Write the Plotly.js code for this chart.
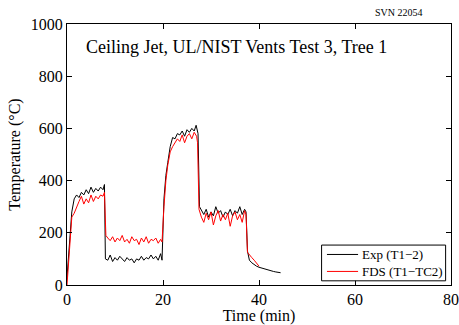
<!DOCTYPE html>
<html><head><meta charset="utf-8">
<script src="https://cdn.plot.ly/plotly-3.0.1.min.js"></script>
<style>html,body{margin:0;padding:0;background:#fff}#c{width:459px;height:325px}</style>
</head><body><div id="c"></div>
<script>
var expTime = [0,0.5,1,1.5,2,2.5,3,3.5,4,4.5,5,5.5,6,6.5,7,7.5,7.8,8.0,8.5,9,9.5,10,10.5,11,11.5,12,12.5,13,13.5,14,14.5,15,15.5,16,16.5,17,17.5,18,18.5,19,19.5,19.8,20.2,20.6,21,21.5,22,22.5,23,23.5,24,24.5,25,25.5,26,26.5,26.9,27.3,27.6,28,28.5,29,29.5,30,30.5,31,31.5,32,32.5,33,33.5,34,34.5,35,35.5,36,36.5,37,37.3,37.6,38,38.5,39,39.5,40,40.5,41,41.5,42,42.5,43,43.5,44,44.5];
var expTemp = [30,170,280,330,345,335,355,345,365,350,375,355,370,360,375,365,385,100,95,115,90,105,95,110,100,90,105,95,100,85,100,95,110,95,105,100,115,100,110,95,120,95,330,420,470,530,565,560,580,575,590,570,595,585,600,590,612,580,300,285,270,290,260,280,265,300,275,285,260,280,270,290,265,285,275,300,270,290,280,130,95,85,78,72,68,65,62,60,57,55,52,50,48,47];
var fdsTime = [0,0.5,1,1.5,2,2.5,3,3.5,4,4.5,5,5.5,6,6.5,7,7.5,7.8,8.1,8.5,9,9.5,10,10.5,11,11.5,12,12.5,13,13.5,14,14.5,15,15.5,16,16.5,17,17.5,18,18.5,19,19.5,19.8,20.2,20.6,21,21.5,22,22.5,23,23.5,24,24.5,25,25.5,26,26.5,27,27.2,27.5,28,28.5,29,29.5,30,30.5,31,31.5,32,32.5,33,33.5,34,34.5,35,35.5,36,36.5,37,37.3,37.6,38,38.5,39,39.5,40];
var fdsTemp = [0,120,260,275,300,320,340,310,330,315,345,320,340,330,345,340,355,190,180,170,185,165,180,170,190,165,175,160,185,170,175,155,180,165,185,160,175,170,180,160,175,165,300,400,460,510,530,545,560,550,575,545,570,580,560,585,570,545,290,260,240,275,250,280,230,265,285,245,270,250,275,225,265,280,250,270,240,285,270,125,115,105,95,82,72];
var xTicks = [0,20,40,60,80];
var yTicks = [0,200,400,600,800,1000];
var seriesNames = ['Exp (T1\u22122)','FDS (T1\u2212TC2)'];
var seriesColors = ['#000000','#ff0000'];

var F = 'Liberation Serif, Times New Roman, serif';
var data = [
  {x: expTime, y: expTemp, type:'scatter', mode:'lines', name: seriesNames[0], line:{color:seriesColors[0], width:1}},
  {x: fdsTime, y: fdsTemp, type:'scatter', mode:'lines', name: seriesNames[1], line:{color:seriesColors[1], width:1}}
];
var axBase = {showline:true, linecolor:'#000', linewidth:1, mirror:'ticks', ticks:'inside', ticklen:5, tickcolor:'#000', showgrid:false, zeroline:false, tickfont:{family:F, size:16, color:'#000'}};

// legend box drawn in paper coordinates (plot area fractions)
var legRows = [0.117, 0.052];
var shapes = [
  {type:'rect', xref:'paper', yref:'paper', x0:0.663, x1:0.986, y0:0.016, y1:0.153, line:{color:'#000', width:1}, fillcolor:'#fff', layer:'above'}
];
var annotations = [
  {text:'Ceiling Jet, UL/NIST Vents Test 3, Tree 1', xref:'paper', yref:'paper', x:0.045, y:0.913, xanchor:'left', yanchor:'middle', showarrow:false, font:{family:F, size:18, color:'#000'}},
  {text:'SVN 22054', xref:'paper', yref:'paper', x:0.865, y:1.045, xanchor:'center', yanchor:'middle', showarrow:false, font:{family:F, size:10, color:'#000'}},
  {text:seriesNames.join('<br>'), xref:'paper', yref:'paper', x:0.765, y:(legRows[0]+legRows[1])/2, xanchor:'left', yanchor:'middle', align:'left', showarrow:false, borderpad:0, font:{family:F, size:13, color:'#000'}}
];
for (var i = 0; i < seriesNames.length; i++) {
  shapes.push({type:'line', xref:'paper', yref:'paper', x0:0.677, x1:0.758, y0:legRows[i], y1:legRows[i], line:{color:seriesColors[i], width:1}, layer:'above'});
}

var layout = {
  width:459, height:325,
  margin:{l:67, r:8, t:24, b:40},
  paper_bgcolor:'#fff', plot_bgcolor:'#fff',
  showlegend:false,
  xaxis: Object.assign({}, axBase, {range:[0,80], tickvals:xTicks, title:{text:'Time (min)', font:{family:F, size:16, color:'#000'}, standoff:2}}),
  yaxis: Object.assign({}, axBase, {range:[0,1000], tickvals:yTicks, title:{text:'Temperature (\u00B0C)', font:{family:F, size:16, color:'#000'}, standoff:6}}),
  shapes: shapes,
  annotations: annotations
};
Plotly.newPlot('c', data, layout, {displayModeBar:false, staticPlot:true});
</script></body></html>
